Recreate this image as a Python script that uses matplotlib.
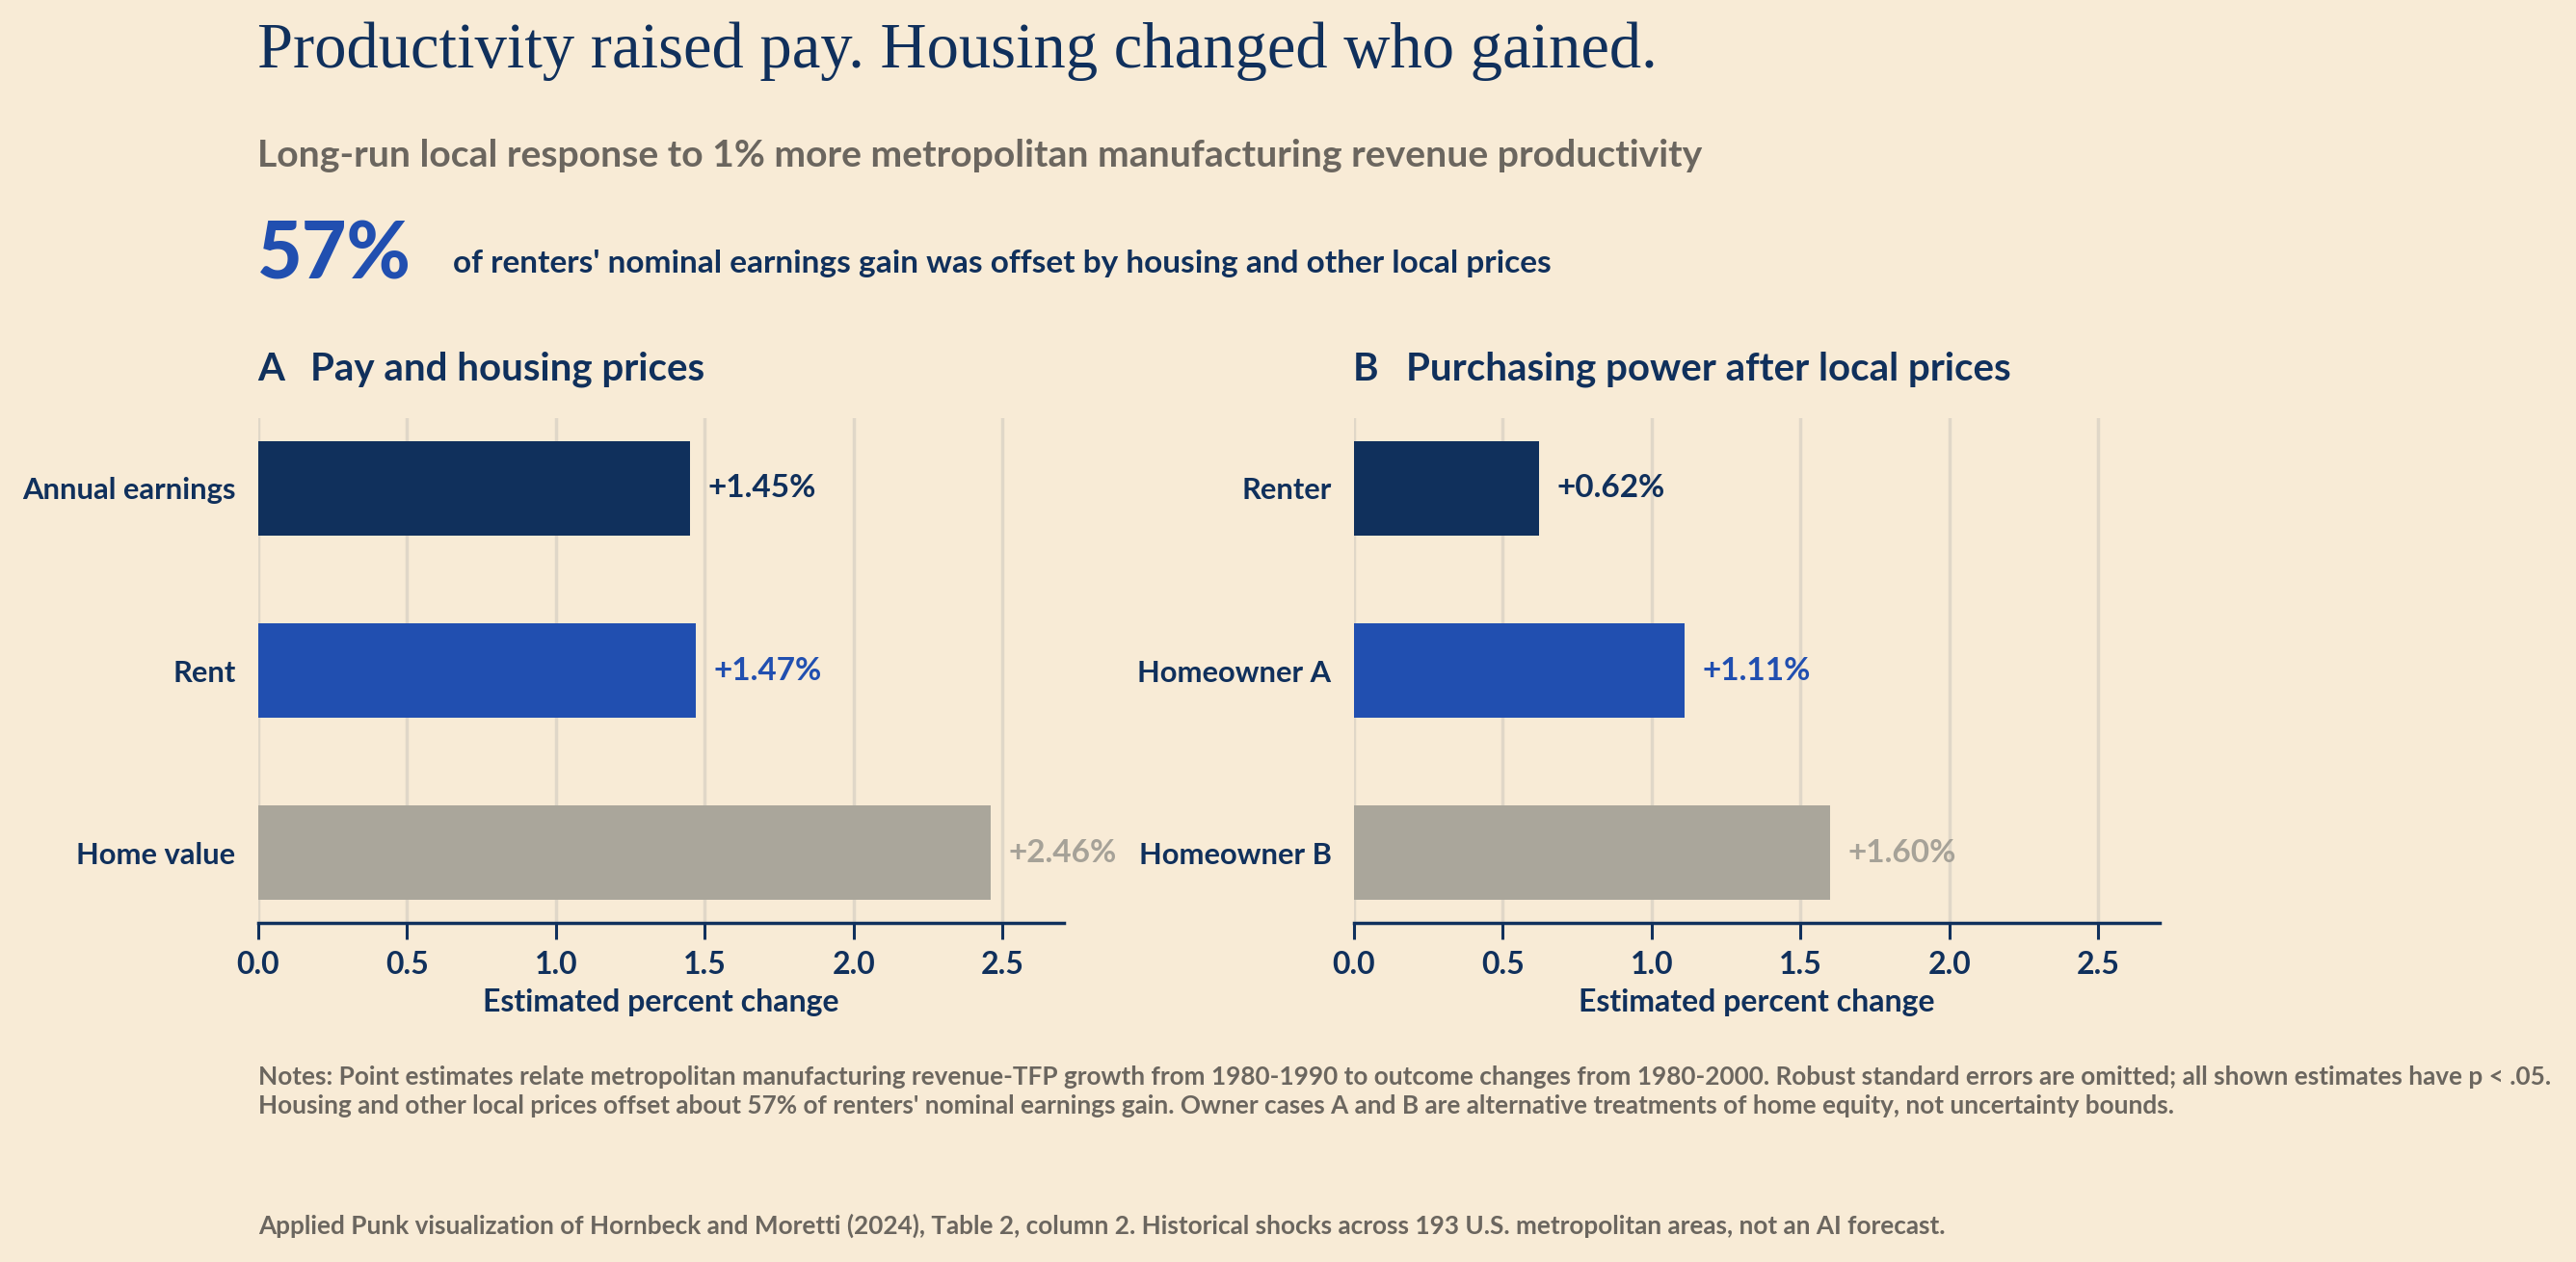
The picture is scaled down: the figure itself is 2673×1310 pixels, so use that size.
import matplotlib
matplotlib.use("Agg")
import matplotlib.pyplot as plt

# -- datos --
cats_a = ["Annual earnings", "Rent", "Home value"]
vals_a = [1.45, 1.47, 2.46]
cats_b = ["Renter", "Homeowner A", "Homeowner B"]
vals_b = [0.62, 1.11, 1.60]
xticks = [0.0, 0.5, 1.0, 1.5, 2.0, 2.5]

# -- colores --
c_bg = "#f8ebd6"
c_navy = "#10305c"
c_blue = "#214fb0"
c_gray = "#aaa69b"
c_gray_lbl = "#a6a298"
c_text_gray = "#6b665f"
c_grid = "#e0d7c8"
bar_colors = [c_navy, c_blue, c_gray]
lbl_colors = [c_navy, c_blue, c_gray_lbl]

SANS = ["Lato", "DejaVu Sans"]
SERIF = ["Liberation Serif", "DejaVu Serif"]
plt.rcParams["font.family"] = SANS

fig = plt.figure(figsize=(26.73, 13.10), dpi=100, facecolor=c_bg)

W, H = 2673, 1310


def fx(px):
    return px / W


def fy(py):
    return 1 - py / H


# -- cabecera --
fig.text(fx(267), fy(70), "Productivity raised pay. Housing changed who gained.",
         family=SERIF, fontsize=48, color=c_navy, va="baseline", ha="left")
fig.text(fx(267), fy(173), "Long-run local response to 1% more metropolitan manufacturing revenue productivity",
         fontsize=28.2, fontweight="bold", color=c_text_gray, va="baseline", ha="left")
fig.text(fx(267), fy(289), "57%", fontsize=58, fontweight="black", color=c_blue,
         va="baseline", ha="left")
fig.text(fx(470), fy(283), "of renters' nominal earnings gain was offset by housing and other local prices",
         fontsize=24, fontweight="bold", color=c_navy, va="baseline", ha="left")


def panel(left_px, letter, title, cats, vals):
    ax = fig.add_axes([fx(left_px), fy(958), fx(836), (958 - 434) / H])
    ax.set_facecolor(c_bg)
    y = list(range(len(cats)))
    ax.barh(y, vals, height=0.52, color=bar_colors, zorder=3)
    for yi, v, c in zip(y, vals, lbl_colors):
        ax.text(v + 0.06, yi, f"+{v:.2f}%", ha="left", va="center",
                fontsize=24, fontweight="bold", color=c, zorder=4)
    ax.set_xlim(0, 2.706)
    ax.set_ylim(2.386, -0.386)
    ax.set_yticks(y)
    ax.set_yticklabels(cats, fontsize=22.2, fontweight="bold", color=c_navy)
    ax.tick_params(axis="y", length=0, pad=17)
    ax.set_xticks(xticks)
    ax.set_xticklabels([f"{t:.1f}" for t in xticks], fontsize=23,
                       fontweight="bold", color=c_navy)
    ax.tick_params(axis="x", length=12, width=2.2, color=c_navy, pad=9)
    ax.xaxis.grid(True, color=c_grid, lw=2.5, zorder=0)
    ax.set_axisbelow(True)
    for s in ("top", "right", "left"):
        ax.spines[s].set_visible(False)
    ax.spines["bottom"].set_color(c_navy)
    ax.spines["bottom"].set_linewidth(2.5)
    ax.set_xlabel("Estimated percent change", fontsize=23, fontweight="bold",
                  color=c_navy, labelpad=7)
    fig.text(fx(left_px - 1), fy(395), letter, fontsize=29, fontweight="bold",
             color=c_navy, va="baseline", ha="left")
    fig.text(fx(left_px + 54), fy(395), title, fontsize=29, fontweight="bold",
             color=c_navy, va="baseline", ha="left")
    return ax


panel(268, "A", "Pay and housing prices", cats_a, vals_a)
panel(1405, "B", "Purchasing power after local prices", cats_b, vals_b)

# -- notas --
fig.text(fx(268), fy(1126),
         "Notes: Point estimates relate metropolitan manufacturing revenue-TFP growth from 1980-1990 to outcome changes "
         "from 1980-2000. Robust standard errors are omitted; all shown estimates have p < .05.",
         fontsize=18.8, fontweight="bold", color=c_text_gray, va="baseline", ha="left")
fig.text(fx(268), fy(1156),
         "Housing and other local prices offset about 57% of renters' nominal earnings gain. Owner cases A and B are "
         "alternative treatments of home equity, not uncertainty bounds.",
         fontsize=18.8, fontweight="bold", color=c_text_gray, va="baseline", ha="left")
fig.text(fx(268), fy(1281),
         "Applied Punk visualization of Hornbeck and Moretti (2024), Table 2, column 2. Historical shocks across "
         "193 U.S. metropolitan areas, not an AI forecast.",
         fontsize=18.8, fontweight="bold", color=c_text_gray, va="baseline", ha="left")

fig.savefig("out.png", dpi=100, facecolor=c_bg)
